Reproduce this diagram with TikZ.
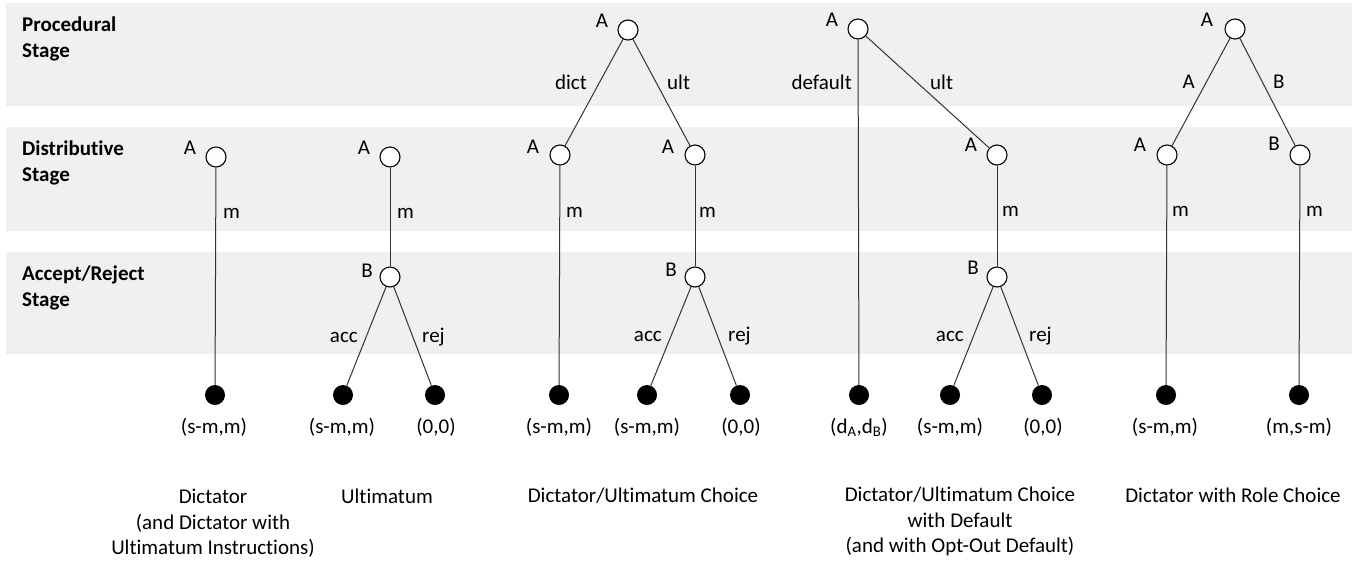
\documentclass[tikz,border=0pt]{standalone}
\usepackage{fontspec}
\setmainfont{Carlito}[Ligatures=NoCommon]
\definecolor{bandgray}{HTML}{F0F0F0}
\definecolor{linegray}{HTML}{333333}
\begin{document}
\begin{tikzpicture}[x=1pt,y=-1pt,
  font=\fontsize{21}{25.5}\selectfont,
  dec/.style={circle,draw=black,fill=white,minimum size=20pt,inner sep=0pt,line width=1.1pt},
  term/.style={circle,fill=black,minimum size=20pt,inner sep=0pt},
  edg/.style={draw=linegray,line width=1pt},
  lbl/.style={inner sep=0pt},
  stage/.style={inner sep=0pt,anchor=north west,align=left,font=\fontsize{21}{26}\selectfont\bfseries},
  title/.style={inner sep=0pt,anchor=north,align=center}]
\useasboundingbox (0,0) rectangle (1359,560);
% bands
\fill[bandgray] (6,3) rectangle (1352,106);
\fill[bandgray] (6,127) rectangle (1352,231);
\fill[bandgray] (6,252) rectangle (1352,354);
% stage labels
\node[stage] (sp) at (22,17) {Procedural\\Stage};
\node[stage] (sd) at (22,141) {Distributive\\Stage};
\node[stage] (sa) at (22,266) {Accept/Reject\\Stage};

% ---------- Game 1: Dictator
\node[dec] (g1a) at (216,157) {};
\node[term] (g1l) at (215,395) {};
\draw[edg] (g1a) -- (g1l);
\node[lbl] (g1aL) at (190,148) {A};
\node[lbl,anchor=west] (g1m) at (223,213) {m};
\node[lbl] (g1p) at (214,427) {(s-m,m)};
\node[title] (g1t) at (213,489) {Dictator\\(and Dictator with\\Ultimatum Instructions)};

% ---------- Game 2: Ultimatum
\node[dec] (g2a) at (390,157) {};
\node[dec] (g2b) at (390,277) {};
\node[term] (g2l1) at (343,395) {};
\node[term] (g2l2) at (435,395) {};
\draw[edg] (g2a) -- (g2b);
\draw[edg] (g2b) -- (g2l1);
\draw[edg] (g2b) -- (g2l2);
\node[lbl] (g2aL) at (364,148) {A};
\node[lbl] (g2bL) at (367,271) {B};
\node[lbl,anchor=west] (g2m) at (397,213) {m};
\node[lbl,anchor=east] (g2acc) at (358,337) {acc};
\node[lbl,anchor=west] (g2rej) at (422,337) {rej};
\node[lbl] (g2p1) at (342,427) {(s-m,m)};
\node[lbl] (g2p2) at (436,427) {(0,0)};
\node[title] (g2t) at (387,489) {Ultimatum};

% ---------- Game 3: Dictator/Ultimatum Choice
\node[dec] (g3r) at (628,30) {};
\node[dec] (g3a) at (560,155) {};
\node[dec] (g3c) at (695,155) {};
\node[dec] (g3b) at (695,277) {};
\node[term] (g3l1) at (559,395) {};
\node[term] (g3l2) at (647,395) {};
\node[term] (g3l3) at (740,395) {};
\draw[edg] (g3r) -- (g3a);
\draw[edg] (g3r) -- (g3c);
\draw[edg] (g3a) -- (g3l1);
\draw[edg] (g3c) -- (g3b);
\draw[edg] (g3b) -- (g3l2);
\draw[edg] (g3b) -- (g3l3);
\node[lbl] (g3rL) at (602,21) {A};
\node[lbl] (g3aL) at (533,147) {A};
\node[lbl] (g3cL) at (668,147) {A};
\node[lbl] (g3bL) at (671,270) {B};
\node[lbl,anchor=east] (g3dict) at (587,82) {dict};
\node[lbl,anchor=west] (g3ult) at (667,82) {ult};
\node[lbl,anchor=west] (g3m1) at (566,212) {m};
\node[lbl,anchor=west] (g3m2) at (699,212) {m};
\node[lbl,anchor=east] (g3acc) at (662,336) {acc};
\node[lbl,anchor=west] (g3rej) at (728,336) {rej};
\node[lbl] (g3p1) at (559,427) {(s-m,m)};
\node[lbl] (g3p2) at (647,427) {(s-m,m)};
\node[lbl] (g3p3) at (741,427) {(0,0)};
\node[title] (g3t) at (643,488) {Dictator/Ultimatum Choice};

% ---------- Game 4: with Default
\node[dec] (g4r) at (858,29) {};
\node[term] (g4l0) at (859,395) {};
\node[dec] (g4a) at (997,155) {};
\node[dec] (g4b) at (997,277) {};
\node[term] (g4l1) at (950,395) {};
\node[term] (g4l2) at (1042,395) {};
\draw[edg] (g4r) -- (g4l0);
\draw[edg] (g4r) -- (g4a);
\draw[edg] (g4a) -- (g4b);
\draw[edg] (g4b) -- (g4l1);
\draw[edg] (g4b) -- (g4l2);
\node[lbl] (g4rL) at (832,20) {A};
\node[lbl] (g4aL) at (971,145) {A};
\node[lbl] (g4bL) at (973,268) {B};
\node[lbl,anchor=east] (g4def) at (852,82) {default};
\node[lbl,anchor=west] (g4ult) at (930,82) {ult};
\node[lbl,anchor=west] (g4m) at (1002,211) {m};
\node[lbl,anchor=east] (g4acc) at (964,336) {acc};
\node[lbl,anchor=west] (g4rej) at (1029,336) {rej};
\node[lbl] (g4p0) at (859,427) {(d\textsubscript{A},d\textsubscript{B})};
\node[lbl] (g4p1) at (950,427) {(s-m,m)};
\node[lbl] (g4p2) at (1043,427) {(0,0)};
\node[title] (g4t) at (960,487) {Dictator/Ultimatum Choice\\with Default\\(and with Opt-Out Default)};

% ---------- Game 5: Role Choice
\node[dec] (g5r) at (1235,29) {};
\node[dec] (g5a) at (1167,155) {};
\node[dec] (g5b) at (1300,155) {};
\node[term] (g5l1) at (1166,395) {};
\node[term] (g5l2) at (1299,395) {};
\draw[edg] (g5r) -- (g5a);
\draw[edg] (g5r) -- (g5b);
\draw[edg] (g5a) -- (g5l1);
\draw[edg] (g5b) -- (g5l2);
\node[lbl] (g5rL) at (1207,20) {A};
\node[lbl] (g5aL) at (1140,145) {A};
\node[lbl] (g5bL) at (1274,144) {B};
\node[lbl,anchor=east] (g5eA) at (1195,82) {A};
\node[lbl,anchor=west] (g5eB) at (1273,82) {B};
\node[lbl,anchor=west] (g5m1) at (1172,211) {m};
\node[lbl,anchor=west] (g5m2) at (1306,211) {m};
\node[lbl] (g5p1) at (1165,427) {(s-m,m)};
\node[lbl] (g5p2) at (1299,427) {(m,s-m)};
\node[title] (g5t) at (1233,488) {Dictator with Role Choice};
\end{tikzpicture}
\end{document}
